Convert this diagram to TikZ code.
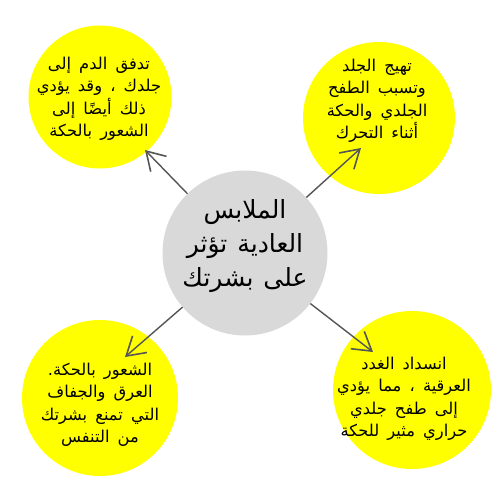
\documentclass[tikz,border=0pt]{standalone}
\usepackage{fontspec}
\newfontfamily\arabicfont[Script=Arabic]{DejaVu Sans}
\TeXXeTstate=1
\usetikzlibrary{arrows.meta}
\definecolor{bubble}{HTML}{FFFF00}
\definecolor{hub}{HTML}{D9D9D9}
\definecolor{arrowgray}{HTML}{555555}
\begin{document}
\begin{tikzpicture}[x=1pt,y=-1pt,
  leaf/.style={circle, fill=bubble, inner sep=0pt},
  hubnode/.style={circle, fill=hub, inner sep=0pt},
  leaftext/.style={align=center, text=black, inner sep=0pt,
    font={\arabicfont\fontsize{16.3}{22.5}\selectfont\spaceskip=0.5em plus 0.1em\relax}},
  hubtext/.style={align=center, text=black, inner sep=0pt,
    font={\arabicfont\fontsize{25}{34}\selectfont\spaceskip=0.4em plus 0.1em\relax}},
  link/.style={draw=arrowgray, line width=1.4pt,
    -{Straight Barb[length=18pt, width=22pt, line width=1.6pt]}}
]
\useasboundingbox (0,0) rectangle (500,500);
\fill[white] (0,0) rectangle (500,500);

\node[hubnode, minimum size=165pt] (c) at (245,253) {};
\node[leaf, minimum size=143pt] (tl) at (100,97) {};
\node[leaf, minimum size=152pt] (tr) at (379,118) {};
\node[leaf, minimum size=156pt] (bl) at (100,398) {};
\node[leaf, minimum size=158pt] (br) at (412,390) {};

\coordinate (tltip) at (145,150);
\coordinate (trtip) at (361,148);
\coordinate (bltip) at (125,357);
\coordinate (brtip) at (373,352);

\draw[link] (c) -- (tltip);
\draw[link] (c) -- (trtip);
\draw[link] (c) -- (bltip);
\draw[link] (c) -- (brtip);

\node[hubtext] (ct) at (245,246) {\beginR الملابس\endR\\\beginR العادية تؤثر\endR\\\beginR على بشرتك\endR};

\node[leaftext] (tlt) at (99,99) {\beginR تدفق الدم إلى\endR\\\beginR جلدك ، وقد يؤدي\endR\\\beginR ذلك أيضًا إلى\endR\\\beginR الشعور بالحكة\endR};

\node[leaftext] (trt) at (377,101) {\beginR تهيج الجلد\endR\\\beginR وتسبب الطفح\endR\\\beginR الجلدي والحكة\endR\\\beginR أثناء التحرك\endR};

\node[leaftext] (blt) at (100,405) {\beginR الشعور بالحكة.\endR\\\beginR العرق والجفاف\endR\\\beginR التي تمنع بشرتك\endR\\\beginR من التنفس\endR};

\node[leaftext] (brt) at (404,399) {\beginR انسداد الغدد\endR\\\beginR العرقية ، مما يؤدي\endR\\\beginR إلى طفح جلدي\endR\\\beginR حراري مثير للحكة\endR};
\end{tikzpicture}
\end{document}
